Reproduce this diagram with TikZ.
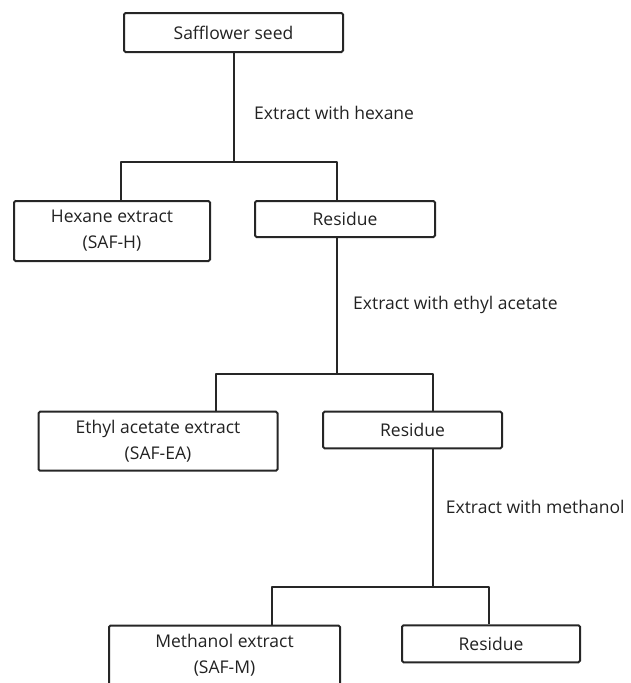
\documentclass[tikz,border=0pt]{standalone}
\usepackage{fontspec}
\setmainfont{Open Sans}
\usetikzlibrary{positioning}
\definecolor{sfInk} {HTML}{222222}
\definecolor{sfLine}{HTML}{262626}

\tikzset{
  stagebox/.style={draw=sfLine,line width=2pt,rounded corners=1.5pt,fill=white,
                   inner sep=0pt,align=center,text=sfInk,
                   font=\fontsize{17.5}{26}\selectfont},
  solvent/.style={anchor=west,inner sep=0pt,text=sfInk,
                  font=\fontsize{17.5}{21}\selectfont},
  link/.style={draw=sfLine,line width=2pt}
}

\begin{document}
\begin{tikzpicture}[x=1pt,y=-1pt]
  \useasboundingbox (0,0) rectangle (631,683);

  % boxes
  \node[stagebox,minimum width=219pt,minimum height=39pt] (seed) at (233.5,32.5) {Safflower seed};
  \node[stagebox,minimum width=196pt,minimum height=60pt] (hexExt) at (112,231) {Hexane extract\\(SAF-H)};
  \node[stagebox,minimum width=180pt,minimum height=36pt] (resA) at (345,219) {Residue};
  \node[stagebox,minimum width=239pt,minimum height=59pt] (eaExt) at (158,441.2) {Ethyl acetate extract\\(SAF-EA)};
  \node[stagebox,minimum width=179pt,minimum height=36.6pt] (resB) at (412.5,430) {Residue};
  \node[stagebox,minimum width=231pt,minimum height=60pt] (meExt) at (224.5,655.5) {Methanol extract\\(SAF-M)};
  \node[stagebox,minimum width=178pt,minimum height=37pt] (resC) at (491,643.8) {Residue};

  % fork points
  \coordinate (forkA) at (234,162);
  \coordinate (forkAl) at (121,162);
  \coordinate (forkAr) at (336.5,162);
  \coordinate (forkB) at (336.5,374.3);
  \coordinate (forkBl) at (216,374.3);
  \coordinate (forkBr) at (433.3,374.3);
  \coordinate (forkC) at (433.3,587);
  \coordinate (forkCl) at (271.7,587);
  \coordinate (forkCr) at (488.7,587);

  % connectors
  \draw[link] (seed.south -| forkA) -- (forkA);
  \draw[link,line join=round] (forkAl |- hexExt.north) -- (forkAl) -- (forkAr) -- (forkAr |- resA.north);
  \draw[link] (resA.south -| forkB) -- (forkB);
  \draw[link,line join=round] (forkBl |- eaExt.north) -- (forkBl) -- (forkBr) -- (forkBr |- resB.north);
  \draw[link] (resB.south -| forkC) -- (forkC);
  \draw[link,line join=round] (forkCl |- meExt.north) -- (forkCl) -- (forkCr) -- (forkCr |- resC.north);

  % solvent labels
  \node[solvent] (solHex) at (254,113) {Extract with hexane};
  \node[solvent] (solEa) at (353,305) {Extract with ethyl acetate};
  \node[solvent] (solMe) at (445.7,507) {Extract with methanol};
\end{tikzpicture}
\end{document}
